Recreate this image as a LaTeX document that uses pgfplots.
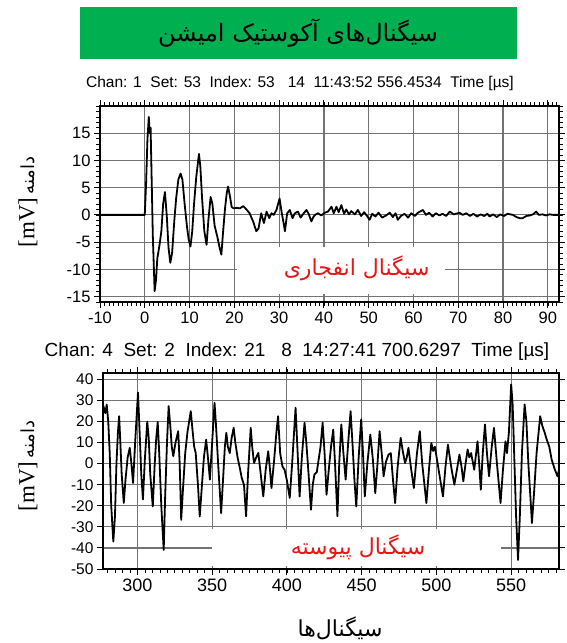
\documentclass[border=0pt]{standalone}
\usepackage{fontspec}
\setmainfont{Liberation Sans}
\newfontfamily\fa[Script=Arabic]{DejaVu Sans}
\newfontfamily\serif{Liberation Serif}
\usepackage{pgfplots}
\pgfplotsset{compat=1.18}
\TeXXeTstate=1
\definecolor{titlegreen}{RGB}{0,176,80}
\definecolor{lbred}{RGB}{232,22,22}

\pgfplotsset{
  aesig/.style={
    scale only axis, anchor=north west,
    grid=major,
    major grid style={black!55, line width=1.2pt},
    minor grid style={draw=none},
    axis line style={line width=1.3pt},
    tick align=outside,
    major tick style={black, line width=0.9pt},
    minor tick style={black, line width=0.6pt},
    major tick length=6pt, minor tick length=4pt,
    xtick pos=both, ytick pos=both,
    xticklabel pos=lower, yticklabel pos=left,
    /pgf/number format/assume math mode=true,
  },
}

\begin{document}
\begin{tikzpicture}
\path[use as bounding box] (0pt,0pt) rectangle (567pt,-643pt);

% title box
\fill[titlegreen] (80pt,-7pt) rectangle (517pt,-59pt);
\node[font=\fa\fontsize{24}{28}\selectfont] at (298pt,-33pt) {\beginR سیگنال‌های آکوستیک امیشن\endR};

% headers
\node[font=\fontsize{15.5}{18}\selectfont] at (300pt,-83pt)
  {Chan: 1\ \ Set: 53\ \ Index: 53\ \ \ 14\ \ 11:43:52 556.4534\ \ Time [µs]};
\node[font=\fontsize{19}{22}\selectfont] at (297pt,-352pt)
  {Chan: 4\ \ Set: 2\ \ Index: 21\ \ \ 8\ \ 14:27:41 700.6297\ \ Time [µs]};

% y labels
\node[rotate=90] at (28pt,-202pt) {{\serif\fontsize{23}{25}\selectfont [mV]} {\fa\fontsize{18}{21}\selectfont\beginR دامنه\endR}};
\node[rotate=90] at (28pt,-466pt) {{\serif\fontsize{23}{25}\selectfont [mV]} {\fa\fontsize{18}{21}\selectfont\beginR دامنه\endR}};

% bottom label
\node[font=\fa\fontsize{22}{26}\selectfont] at (340pt,-628pt) {\beginR سیگنال‌ها\endR};

% ---- burst signal ----
\begin{axis}[aesig,
  at={(100pt,-106pt)}, width=459pt, height=196pt,
  xmin=-10, xmax=92.5, ymin=-16, ymax=20,
  xtick={-10,0,...,90}, ytick={-15,-10,...,15},
  minor xtick={-10,-9,...,92}, minor ytick={-16,-15,...,20},
  ticklabel style={font=\fontsize{16.5}{18}\selectfont},
]
\addplot[black, line width=1.8pt, line join=round] coordinates {
 (-10,0) (0,0) (0.3,6) (0.6,14) (0.9,18) (1.1,15) (1.3,16) (1.5,8) (1.8,-4)
 (2.2,-14) (2.5,-12) (2.8,-8) (3.3,-5.5) (3.7,-3) (4.1,2) (4.5,4.2) (4.9,0)
 (5.3,-6) (5.7,-8.8) (6.1,-7) (6.6,-1) (7.0,3) (7.5,6.5) (8.0,7.6) (8.4,6.5)
 (8.9,2) (9.4,-2) (9.8,-4.5) (10.2,-5.8) (10.6,-3) (11.0,2) (11.5,7) (12.1,11.2)
 (12.4,9) (12.8,3) (13.3,-3) (13.8,-5.5) (14.2,-1) (14.7,3.3) (15.1,2) (15.6,-2)
 (16.2,-4) (16.7,-6) (17.1,-7.3) (17.5,-3) (17.9,1) (18.3,4) (18.6,5.2) (19.0,3.5)
 (19.4,1.5) (19.8,1.2) (20.5,1.3) (21.2,1.2) (22.0,1.6) (22.7,1.0) (23.4,0.3)
 (24.2,-1.2) (24.9,-3.0) (25.4,-2.5) (26.0,0.3) (26.6,-1.5) (27.2,0.6) (27.8,-0.6)
 (28.3,0.3) (28.8,0.0) (29.4,0.9) (30.1,3.0) (30.6,0.3) (31.0,-1.5) (31.3,-3.0)
 (31.8,0.3) (32.4,0.9) (33.0,-0.6) (33.5,0.3) (34.2,0.6) (34.8,-0.5) (35.5,0.3)
 (36.1,0.9) (36.6,0.2) (37.2,-1.2) (37.7,-0.3) (38.2,0.1) (38.7,0.3) (39.4,-0.1)
 (40.2,0.4) (40.9,0.6) (41.7,1.5) (42.2,0.3) (42.8,1.5) (43.3,0.5) (43.9,1.8)
 (44.5,0.2) (45.0,1.0) (45.6,0.1) (46.1,0.7) (46.9,0.1) (47.6,0.9) (48.3,-0.2)
 (49.0,0.5) (49.8,-0.4) (50.2,-0.9) (50.8,0.2) (51.5,-0.3) (52.2,0.4) (53.0,-0.5)
 (53.9,-0.1) (54.7,0.4) (55.4,-0.4) (56.0,0.3) (56.5,-0.9) (57.2,-0.2) (58.0,0.2)
 (58.8,-0.5) (59.5,0.3) (60.3,-0.2) (61.0,0.4) (62.1,0.9) (62.8,0.0) (63.5,0.4)
 (64.3,-0.3) (65.0,0.3) (65.8,-0.1) (66.5,0.2) (67.3,-0.2) (68.1,0.6) (69.0,0.1)
 (70.3,0.4) (71.0,0.0) (71.8,0.3) (72.6,-0.2) (73.4,0.2) (74.2,-0.3) (75.0,0.1)
 (75.8,-0.2) (76.5,0.2) (77.0,-0.3) (77.8,0.1) (78.6,-0.4) (79.4,0.1) (80.2,-0.2)
 (81.0,0.2) (82.2,0.0) (83.0,-0.4) (83.7,-0.6) (84.4,-0.6) (85.2,-0.2) (86.0,-0.1)
 (86.7,0.1) (87.4,0.6) (88.0,0.0) (88.8,0.1) (89.6,-0.1) (90.4,0.1) (91.2,0.0)
 (92.5,0.0)
};
% blank patch behind the caption
\fill[white] (axis cs:20.5,-5.9) rectangle (axis cs:67,-14.6);
\node[font=\fa\fontsize{22}{26}\selectfont, text=lbred] at (axis cs:47.3,-9.8) {\beginR سیگنال انفجاری\endR};
\end{axis}

% ---- continuous signal ----
\begin{axis}[aesig,
  at={(103pt,-373pt)}, width=456pt, height=196pt,
  xmin=277, xmax=582, ymin=-50, ymax=43,
  xtick={300,350,...,550}, ytick={-50,-40,...,40},
  minor xtick={280,285,...,580},
  xticklabel style={font=\fontsize{18}{20}\selectfont},
  yticklabel style={font=\fontsize{15.5}{18}\selectfont},
]
\addplot[black, line width=1.8pt, line join=round] coordinates {
 (277.3,27.3) (278.5,24) (279.5,28) (280.5,20) (281.5,5) (282.5,-20) (283.9,-37)
 (285,-25) (286,0) (287,15) (287.8,22.5) (288.6,10) (289.5,-5) (290.9,-18.7)
 (292,-8) (293.5,3) (294.9,7.5) (296,0) (297.1,-9.2) (298.5,10) (300.4,33.7)
 (301.5,15) (302.6,-5) (303.7,-17) (305,2) (306.6,20) (307.6,12) (308.6,-5)
 (310.3,-20.3) (311.6,0) (312.6,12) (313.6,19.7) (314.6,5) (316,-20) (317.6,-41)
 (318.6,-15) (319.8,10) (320.9,27.3) (322,18) (323,8) (324,3.5) (325.5,10)
 (327.3,15.4) (328.3,0) (329.3,-26.7) (330.5,-12) (332,5) (333.5,15) (335.7,24.9)
 (337,15) (338,8) (339,5.1) (340.5,-10) (341.7,-25.1) (343,-12) (344.5,3)
 (346,11.4) (347.3,2) (348.5,-7.6) (350,10) (351.6,28.9) (352.6,18) (354,0)
 (356,-23.5) (357.5,-5) (358.5,8) (359.5,14.6) (360.5,8) (361.8,5) (363,12)
 (364.4,17) (365.5,10) (367,3) (368.5,-2) (369.8,-6.8) (371.3,-10) (372.7,-25)
 (374,-5) (375.8,17) (376.8,8) (378,0.3) (379.5,3) (380.9,5.1) (382.5,-5)
 (384.2,-15.6) (385.8,-3) (387.5,5.9) (388.6,-2) (389.7,-11.6) (391.5,2) (393,15)
 (394.1,22.5) (395.5,5) (397,-1.3) (398.5,-3) (400,-8) (401.9,-16.3) (403.5,0)
 (404.8,15) (405.8,26.5) (407,8) (408.5,-15.6) (410,3) (411.8,19.4) (413,10)
 (414.5,-5) (416.1,-21.9) (417.3,-10) (418.4,-5.2) (420,-4) (422.5,8) (423.9,19.4)
 (425.2,5) (426.5,-14.8) (428,-3) (429.5,8) (431,16.2) (432.2,0) (433.8,-25)
 (435,0) (436.4,18.6) (437.8,5) (439.3,-7.6) (441,10) (442.6,24.9) (444,8)
 (445.2,-8) (446.4,-20.3) (448,3) (449.7,21) (450.9,5) (452.1,-15.6) (453.8,0)
 (455.8,13.8) (457.5,2) (459.1,-14) (460.6,0) (462,15.4) (463.4,5) (464.7,-6)
 (466.3,1) (468,4.3) (469.5,5) (471,-8) (472.4,-18.7) (474,-2) (476.1,12.2)
 (477.5,6) (479,0.3) (480.2,3) (481.3,7.5) (483,-2) (484.9,-11.6) (487,5)
 (488.9,15.4) (490.5,0) (493.3,-18.7) (495,-3) (496.6,9.8) (497.8,6) (499,8)
 (501.5,-3) (504.4,-15.6) (506,-2) (507.7,9) (510,-2) (512,-10) (513.7,-3)
 (515.4,4.3) (516.7,-1) (518,-8.4) (519.5,0) (520.9,6.7) (522,3) (523.2,5)
 (525.3,-2.9) (527.5,10.6) (528.6,0) (529.7,-12.4) (531,5) (532.5,18.6) (533.8,5)
 (535.2,-6) (537,8) (538.5,17) (540.5,0) (542.9,-18.7) (544.5,-3) (546.2,10.6)
 (547.2,5) (548.5,15) (550,37.6) (551,28) (552,5) (553.3,-25) (554.6,-45.7)
 (555.8,-25) (557.2,5) (559,28.1) (560.2,20) (561.5,0) (562.8,-15) (563.9,-28.2)
 (565.2,-15) (567,5) (569.4,22.5) (570.8,18) (572.3,15) (573.8,11.4) (575.5,8)
 (577.1,1.9) (579.3,-3) (581,-6) (582,-3)
};
\fill[white] (axis cs:349.8,-31) rectangle (axis cs:543,-48.8);
\node[font=\fa\fontsize{22}{26}\selectfont, text=lbred] at (axis cs:447.6,-39.5) {\beginR سیگنال پیوسته\endR};
\end{axis}
\end{tikzpicture}
\end{document}
